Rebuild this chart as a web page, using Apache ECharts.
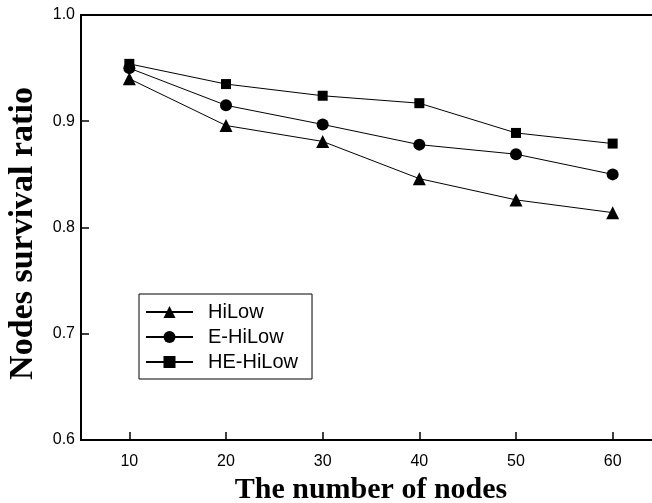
<!DOCTYPE html>
<html>
<head>
<meta charset="utf-8">
<script src="https://cdn.jsdelivr.net/npm/echarts@6/dist/echarts.min.js"></script>
<style>html,body{margin:0;padding:0;background:#fff;}#c{width:652px;height:503px;}</style>
</head>
<body>
<div id="c"></div>
<script>
const nodes = [10, 20, 30, 40, 50, 60];
const hiLow = [0.940, 0.896, 0.881, 0.846, 0.826, 0.814];
const eHiLow = [0.950, 0.915, 0.897, 0.878, 0.869, 0.850];
const heHiLow = [0.954, 0.935, 0.924, 0.917, 0.889, 0.879];
const xTicks = [10, 20, 30, 40, 50, 60];

const chart = echarts.init(document.getElementById('c'));
const pair = arr => nodes.map((n, i) => [n, arr[i]]);
const mk = (name, data, symbol, size) => ({
  name, type: 'line', data: pair(data), symbol, symbolSize: size,
  lineStyle: { color: '#000', width: 1 }, itemStyle: { color: '#000' },
  animation: false
});
chart.setOption({
  animation: false,
  grid: { left: 81, top: 15, right: -9, bottom: 63, outerBoundsMode: 'none', containLabel: false,
          show: true, borderColor: '#000', borderWidth: 2, backgroundColor: 'transparent' },
  legend: {
    left: 139, top: 294, orient: 'vertical',
    borderColor: '#000', borderWidth: 1, padding: [8, 14, 7, 6],
    itemWidth: 47, itemHeight: 15, itemGap: 5,
    textStyle: { fontFamily: 'Liberation Sans', fontSize: 20, lineHeight: 20, color: '#000', padding: [0, 0, 0, 10] },
    data: ['HiLow', 'E-HiLow', 'HE-HiLow']
  },
  xAxis: {
    type: 'value', min: 5, max: 65, interval: 5,
    name: 'The number of nodes', nameLocation: 'middle', nameGap: 33,
    nameTextStyle: { fontFamily: 'Liberation Serif', fontWeight: 'bold', fontSize: 30, color: '#000' },
    axisLine: { lineStyle: { color: '#000', width: 2 } },
    axisTick: { inside: true, length: 8, lineStyle: { color: '#000', width: 1.5 }, customValues: xTicks },
    axisLabel: { fontFamily: 'Liberation Sans', fontSize: 16, color: '#000', margin: 14, customValues: xTicks },
    splitLine: { show: false }
  },
  yAxis: {
    type: 'value', min: 0.6, max: 1.0, interval: 0.1,
    name: 'Nodes survival ratio', nameLocation: 'middle', nameGap: 41,
    nameTextStyle: { fontFamily: 'Liberation Serif', fontWeight: 'bold', fontSize: 34, color: '#000', padding: [0, 12, 0, 0] },
    axisLine: { lineStyle: { color: '#000', width: 2 } },
    axisTick: { inside: true, length: 8, lineStyle: { color: '#000', width: 1.5 } },
    axisLabel: { fontFamily: 'Liberation Sans', fontSize: 16, color: '#000', margin: 6, formatter: v => v.toFixed(1) },
    splitLine: { show: false }
  },
  series: [
    mk('HiLow', hiLow, 'triangle', 13),
    mk('E-HiLow', eHiLow, 'circle', 12),
    mk('HE-HiLow', heHiLow, 'rect', 10)
  ]
});
</script>
</body>
</html>
